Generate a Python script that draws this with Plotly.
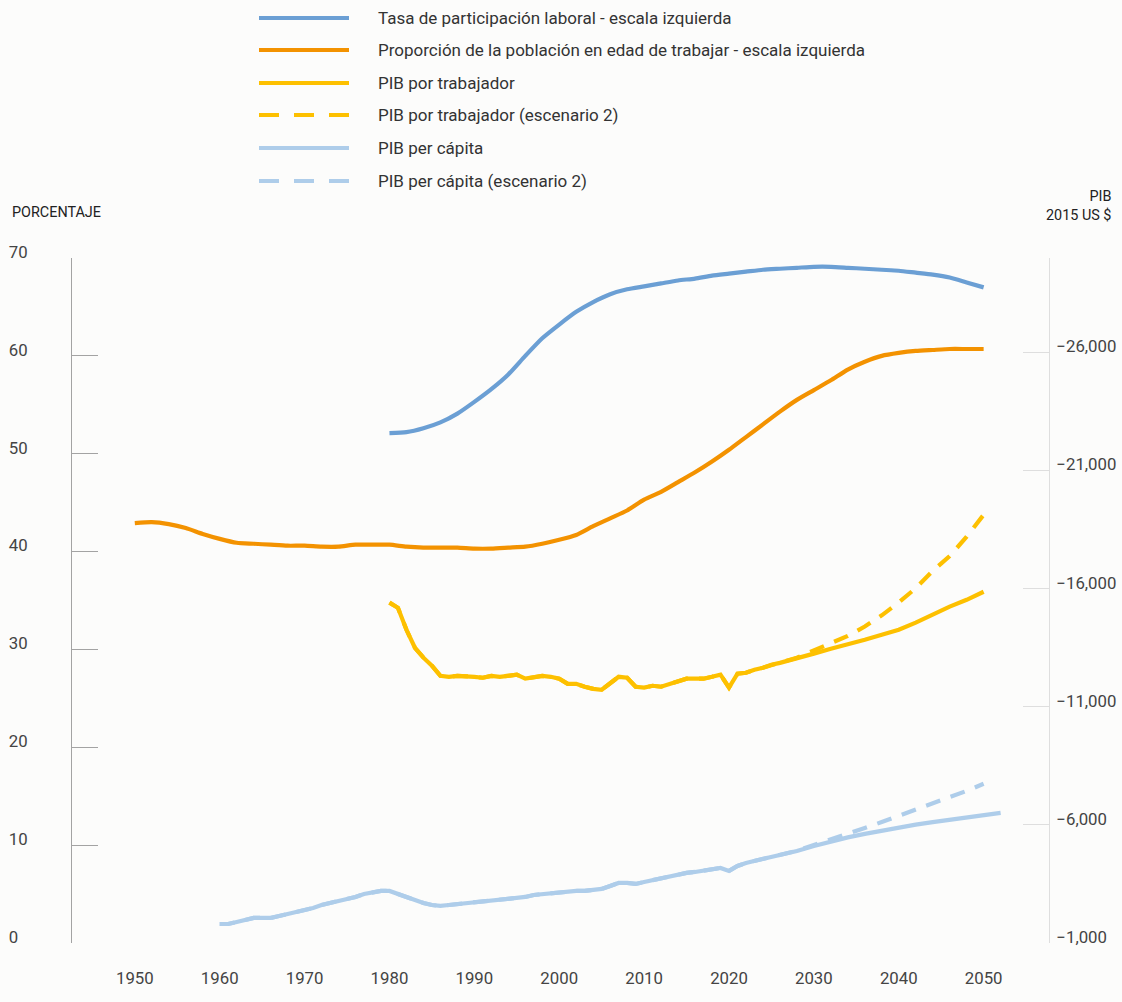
import plotly.graph_objects as go

# ---------------- data ----------------
# Tasa de participación laboral (left axis, %)
lab_years = list(range(1980, 2051, 2))
lab_rate = [52.1, 52.2, 52.6, 53.2, 54.1, 55.3, 56.6, 58.1, 60.0, 61.8,
            63.2, 64.5, 65.5, 66.3, 66.8, 67.1, 67.4, 67.7, 67.9, 68.2,
            68.4, 68.6, 68.8, 68.9, 69.0, 69.1, 69.1, 69.0, 68.9, 68.8,
            68.7, 68.5, 68.3, 68.0, 67.5, 67.0]

# Proporción de la población en edad de trabajar (left axis, %)
wa_years = list(range(1950, 2051, 2))
wa_share = [42.9, 43.0, 42.8, 42.4, 41.8, 41.3, 40.9, 40.8, 40.7, 40.6,
            40.6, 40.5, 40.5, 40.7, 40.7, 40.7, 40.5, 40.4, 40.4, 40.4,
            40.3, 40.3, 40.4, 40.5, 40.8, 41.2, 41.7, 42.6, 43.4, 44.2,
            45.3, 46.1, 47.1, 48.1, 49.2, 50.4, 51.7, 53.0, 54.3, 55.5,
            56.5, 57.5, 58.6, 59.4, 60.0, 60.3, 60.5, 60.6, 60.7, 60.7,
            60.7]

# PIB por trabajador (right axis, 2015 US $)
gw_hist_years = list(range(1980, 2026))
gw_hist = [15410, 15190, 14260, 13500, 13080, 12740, 12310, 12270, 12310, 12310,
           12270, 12230, 12310, 12270, 12310, 12360, 12190, 12230, 12310, 12270,
           12190, 11970, 11970, 11850, 11760, 11720, 12020, 12270, 12230, 11850,
           11810, 11890, 11850, 11970, 12100, 12190, 12190, 12190, 12270, 12360,
           11810, 12400, 12440, 12570, 12650, 12780]
gw_base_years = [2026, 2027, 2028, 2029, 2030, 2032, 2034, 2036, 2038, 2040,
                 2042, 2044, 2046, 2048, 2050]
gw_base = [12860, 12950, 13030, 13120, 13250, 13460, 13630, 13840, 14050, 14260,
           14560, 14900, 15240, 15530, 15870]
gw_s2_years = [2026, 2028, 2030, 2032, 2034, 2036, 2038, 2040, 2042, 2044,
               2046, 2048, 2050]
gw_s2 = [12870, 13080, 13380, 13720, 14000, 14400, 14870, 15420, 16020, 16750,
         17380, 18200, 19130]

# PIB per cápita (right axis, 2015 US $)
gc_hist_years = list(range(1960, 2028))
gc_hist = [1805, 1805, 1890, 1975, 2060, 2060, 2060, 2144, 2229, 2313,
           2356, 2483, 2610, 2695, 2737, 2822, 2949, 3076, 3161, 3203,
           3203, 3076, 2907, 2780, 2695, 2610, 2568, 2610, 2652, 2652,
           2695, 2737, 2780, 2822, 2864, 2907, 2949, 3034, 3076, 3118,
           3161, 3161, 3203, 3203, 3246, 3288, 3415, 3542, 3542, 3500,
           3585, 3669, 3712, 3796, 3881, 3966, 4008, 4051, 4135, 4178,
           4051, 4262, 4390, 4474, 4559, 4644, 4729, 4813]
gc_base_years = [2028, 2030, 2032, 2034, 2036, 2038, 2040, 2042, 2044, 2046,
                 2048, 2050, 2052]
gc_base = [4898, 5110, 5300, 5470, 5620, 5760, 5890, 6010, 6120, 6220,
           6320, 6420, 6510]
gc_s2_years = [2028, 2030, 2032, 2034, 2036, 2038, 2040, 2042, 2044, 2046,
               2048, 2050]
gc_s2 = [4900, 5150, 5380, 5620, 5870, 6120, 6380, 6640, 6890, 7140,
         7440, 7740]

x_ticks = list(range(1950, 2051, 10))
left_ticks = [0, 10, 20, 30, 40, 50, 60, 70]
left_ticktext = ["0\u2007", "10", "20", "30", "40", "50", "60", "70"]
right_ticks = [1000, 6000, 11000, 16000, 21000, 26000, 30000]
right_ticktext = ["\u22121,000", "\u22126,000", "\u221211,000", "\u221216,000",
                  "\u221221,000", "\u221226,000", ""]

names = ["Tasa de participación laboral - escala izquierda",
         "Proporción de la población en edad de trabajar - escala izquierda",
         "PIB por trabajador",
         "PIB por trabajador (escenario 2)",
         "PIB per cápita",
         "PIB per cápita (escenario 2)"]

# ---------------- style ----------------
C_BLUE = "#6b9fd4"
C_ORANGE = "#f39200"
C_YELLOW = "#fdc000"
C_LIGHT = "#aecdea"
BG = "#fcfcfb"
FONT = "Roboto"
LW = 4.2
DASH = "15px,11px"
TICK_SIZE = 16.8

fig = go.Figure()

fig.add_trace(go.Scatter(x=gc_hist_years + gc_base_years, y=gc_hist + gc_base,
                         yaxis="y2", mode="lines", name=names[4],
                         line=dict(color=C_LIGHT, width=LW)))
fig.add_trace(go.Scatter(x=gc_hist_years + gc_s2_years, y=gc_hist + gc_s2,
                         yaxis="y2", mode="lines", name=names[5],
                         line=dict(color=C_LIGHT, width=LW, dash=DASH)))
fig.add_trace(go.Scatter(x=gw_hist_years + gw_base_years, y=gw_hist + gw_base,
                         yaxis="y2", mode="lines", name=names[2],
                         line=dict(color=C_YELLOW, width=LW)))
fig.add_trace(go.Scatter(x=gw_hist_years + gw_s2_years, y=gw_hist + gw_s2,
                         yaxis="y2", mode="lines", name=names[3],
                         line=dict(color=C_YELLOW, width=LW, dash=DASH)))
fig.add_trace(go.Scatter(x=wa_years, y=wa_share, mode="lines", name=names[1],
                         line=dict(color=C_ORANGE, width=LW, shape="spline", smoothing=0.6)))
fig.add_trace(go.Scatter(x=lab_years, y=lab_rate, mode="lines", name=names[0],
                         line=dict(color=C_BLUE, width=LW, shape="spline", smoothing=0.6)))

W, H = 1122, 1002
ML, MR, MT, MB = 72, 73, 258, 59
PW, PH = W - ML - MR, H - MT - MB


def px(xp):
    return (xp - ML) / PW


def py(yp):
    return (H - MB - yp) / PH


# manual legend (long line samples like the original)
legend_y = [18, 50, 83, 115, 148, 181]
legend_col = [C_BLUE, C_ORANGE, C_YELLOW, C_YELLOW, C_LIGHT, C_LIGHT]
legend_dash = ["solid", "solid", "solid", "20px,15px", "solid", "20px,15px"]
shapes = []
annotations = []
for nm, yy, col, ds in zip(names, legend_y, legend_col, legend_dash):
    shapes.append(dict(type="line", xref="paper", yref="paper",
                       x0=px(259), x1=px(349), y0=py(yy), y1=py(yy),
                       line=dict(color=col, width=4, dash=ds)))
    annotations.append(dict(xref="paper", yref="paper", x=px(376), y=py(yy),
                            xanchor="left", yanchor="middle", showarrow=False,
                            text=nm, font=dict(family=FONT, size=17, color="#333333")))

annotations.append(dict(xref="paper", yref="paper", x=px(10), y=py(213),
                        xanchor="left", yanchor="middle", showarrow=False,
                        text="PORCENTAJE", font=dict(family=FONT, size=14.4, color="#222222")))
annotations.append(dict(xref="paper", yref="paper", x=px(1113), y=py(206),
                        xanchor="right", yanchor="middle", showarrow=False, align="right",
                        text="PIB<br>2015 US $", font=dict(family=FONT, size=14.4, color="#222222")))

fig.update_layout(
    width=W, height=H,
    margin=dict(l=ML, r=MR, t=MT, b=MB, pad=0, autoexpand=False),
    paper_bgcolor=BG, plot_bgcolor=BG,
    showlegend=False,
    font=dict(family=FONT, size=16, color="#444444"),
    xaxis=dict(range=[1942.6, 2057.7], tickvals=x_ticks, showgrid=False,
               zeroline=False, showline=False, automargin=False,
               ticks="outside", ticklen=20, tickcolor="rgba(0,0,0,0)",
               tickfont=dict(family=FONT, size=TICK_SIZE, color="#444444")),
    yaxis=dict(range=[0, 70], tickvals=left_ticks, ticktext=left_ticktext,
               showgrid=False, zeroline=False, showline=True, automargin=False,
               linecolor="#a3a3a3", linewidth=1,
               ticks="inside", ticklen=26, tickwidth=1, tickcolor="#a3a3a3",
               tickfont=dict(family=FONT, size=TICK_SIZE, color="#444444"),
               ticklabelstandoff=40, ticklabelshift=-6),
    yaxis2=dict(range=[1000, 30000], overlaying="y", side="right",
                tickvals=right_ticks, ticktext=right_ticktext,
                showgrid=False, zeroline=False, showline=True, automargin=False,
                linecolor="#dedede", linewidth=1,
                ticks="inside", ticklen=26, tickwidth=1, tickcolor="#dedede",
                tickfont=dict(family=FONT, size=TICK_SIZE, color="#444444"),
                ticklabelstandoff=3, ticklabelshift=-6),
    shapes=shapes,
    annotations=annotations,
)

fig.write_html("out.html", config={"displayModeBar": False},
               post_script="document.body.style.margin='0px';")
